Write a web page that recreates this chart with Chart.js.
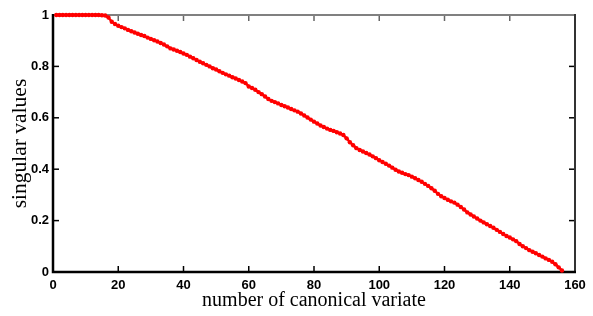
<!DOCTYPE html>
<html>
<head>
<meta charset="utf-8">
<script src="https://cdn.jsdelivr.net/npm/chart.js@4.4.1/dist/chart.umd.min.js"></script>
<style>
  html, body { margin: 0; padding: 0; background: #fff; }
  #wrap { width: 593px; height: 316px; }
</style>
</head>
<body>
<div id="wrap"><canvas id="svChart"></canvas></div>
<script>
// singular values, one per canonical variate (1..156)
const singularValues = [
  1.000, 1.000, 1.000, 1.000, 1.000, 1.000, 1.000, 1.000, 1.000, 1.000,
  1.000, 1.000, 1.000, 1.000, 0.999, 0.998, 0.990, 0.974, 0.965, 0.958,
  0.953, 0.948, 0.942, 0.937, 0.932, 0.927, 0.922, 0.918, 0.912, 0.907,
  0.902, 0.897, 0.891, 0.885, 0.878, 0.870, 0.866, 0.861, 0.856, 0.850,
  0.845, 0.838, 0.832, 0.825, 0.818, 0.812, 0.806, 0.800, 0.793, 0.788,
  0.781, 0.775, 0.769, 0.764, 0.758, 0.753, 0.747, 0.741, 0.735, 0.722,
  0.716, 0.709, 0.700, 0.692, 0.683, 0.673, 0.666, 0.661, 0.656, 0.650,
  0.645, 0.640, 0.634, 0.629, 0.624, 0.617, 0.609, 0.601, 0.593, 0.585,
  0.578, 0.570, 0.564, 0.558, 0.553, 0.549, 0.544, 0.539, 0.533, 0.520,
  0.505, 0.493, 0.482, 0.475, 0.469, 0.463, 0.457, 0.450, 0.443, 0.435,
  0.428, 0.421, 0.414, 0.406, 0.398, 0.391, 0.386, 0.381, 0.377, 0.371,
  0.365, 0.358, 0.351, 0.343, 0.335, 0.326, 0.316, 0.304, 0.295, 0.288,
  0.281, 0.275, 0.270, 0.262, 0.253, 0.243, 0.232, 0.224, 0.216, 0.208,
  0.200, 0.193, 0.186, 0.179, 0.172, 0.164, 0.156, 0.148, 0.140, 0.134,
  0.127, 0.120, 0.109, 0.100, 0.093, 0.085, 0.079, 0.073, 0.066, 0.060,
  0.053, 0.047, 0.040, 0.030, 0.018, 0.006
];
const variateNumbers = singularValues.map((v, i) => i + 1);

const xTicks = [0, 20, 40, 60, 80, 100, 120, 140, 160];
const yTicks = [0, 0.2, 0.4, 0.6, 0.8, 1];

const xTitle = 'number of canonical variate';
const yTitle = 'singular values';

const points = variateNumbers.map((n, i) => ({ x: n, y: singularValues[i] }));

// matlab style box with inward tick marks
const boxPlugin = {
  id: 'matlabBox',
  beforeDatasetsDraw(chart) {
    const { ctx, chartArea: a, scales: { x, y } } = chart;
    const tl = 6;
    ctx.save();
    ctx.lineCap = 'butt';

    ctx.lineWidth = 1.5;
    ctx.strokeStyle = '#000';
    xTicks.forEach(v => {
      if (v === xTicks[0] || v === xTicks[xTicks.length - 1]) return;
      const px = x.getPixelForValue(v);
      ctx.beginPath(); ctx.moveTo(px, a.bottom); ctx.lineTo(px, a.bottom - tl); ctx.stroke();
      ctx.strokeStyle = '#666';
      ctx.beginPath(); ctx.moveTo(px, a.top); ctx.lineTo(px, a.top + tl); ctx.stroke();
      ctx.strokeStyle = '#000';
    });
    yTicks.forEach(v => {
      if (v === yTicks[0] || v === yTicks[yTicks.length - 1]) return;
      const py = y.getPixelForValue(v);
      ctx.beginPath(); ctx.moveTo(a.left, py); ctx.lineTo(a.left + tl, py); ctx.stroke();
      ctx.beginPath(); ctx.moveTo(a.right, py); ctx.lineTo(a.right - tl, py); ctx.stroke();
    });

    ctx.lineWidth = 2;
    ctx.strokeStyle = '#808080';
    ctx.beginPath(); ctx.moveTo(a.left, a.top); ctx.lineTo(a.right, a.top); ctx.stroke();
    ctx.strokeStyle = '#333';
    ctx.beginPath(); ctx.moveTo(a.right, a.top - 1); ctx.lineTo(a.right, a.bottom); ctx.stroke();
    ctx.strokeStyle = '#000';
    ctx.lineWidth = 2.5;
    ctx.beginPath(); ctx.moveTo(a.left, a.top - 1); ctx.lineTo(a.left, a.bottom); ctx.lineTo(a.right + 1, a.bottom); ctx.stroke();
    ctx.restore();
  }
};

const tickFont = { family: "'Liberation Sans', Arial, sans-serif", size: 13, weight: 'bold' };

new Chart(document.getElementById('svChart'), {
  type: 'line',
  data: {
    datasets: [{
      data: points,
      borderColor: '#ff0000',
      backgroundColor: '#ff0000',
      borderWidth: 2.5,
      pointRadius: 2.2,
      pointBorderWidth: 0,
      pointStyle: 'circle',
      tension: 0,
      clip: false
    }]
  },
  options: {
    responsive: true,
    maintainAspectRatio: false,
    animation: false,
    events: [],
    layout: { padding: { top: 15, right: 18, left: 0, bottom: 0 } },
    plugins: {
      legend: { display: false },
      tooltip: { enabled: false }
    },
    scales: {
      x: {
        type: 'linear',
        min: 0,
        max: 160,
        afterFit: s => { s.height = 44; },
        afterBuildTicks: s => { s.ticks = xTicks.map(v => ({ value: v })); },
        grid: { display: false, drawTicks: false },
        border: { display: false },
        ticks: { color: '#000', font: tickFont, padding: 6, maxRotation: 0 },
        title: {
          display: true, text: xTitle, color: '#000',
          font: { family: "'Liberation Serif', 'Times New Roman', serif", size: 20 },
          padding: { top: 0, bottom: 3 }
        }
      },
      y: {
        type: 'linear',
        min: 0,
        max: 1,
        afterFit: s => { s.width = 53; },
        afterBuildTicks: s => { s.ticks = yTicks.map(v => ({ value: v })); },
        grid: { display: false, drawTicks: false },
        border: { display: false },
        ticks: { color: '#000', font: tickFont, padding: 4, callback: v => String(Math.round(v * 10) / 10) },
        title: {
          display: true, text: yTitle, color: '#000',
          font: { family: "'Liberation Serif', 'Times New Roman', serif", size: 21.5 },
          padding: { top: 7, bottom: 0 }
        }
      }
    }
  },
  plugins: [boxPlugin]
});
</script>
</body>
</html>
